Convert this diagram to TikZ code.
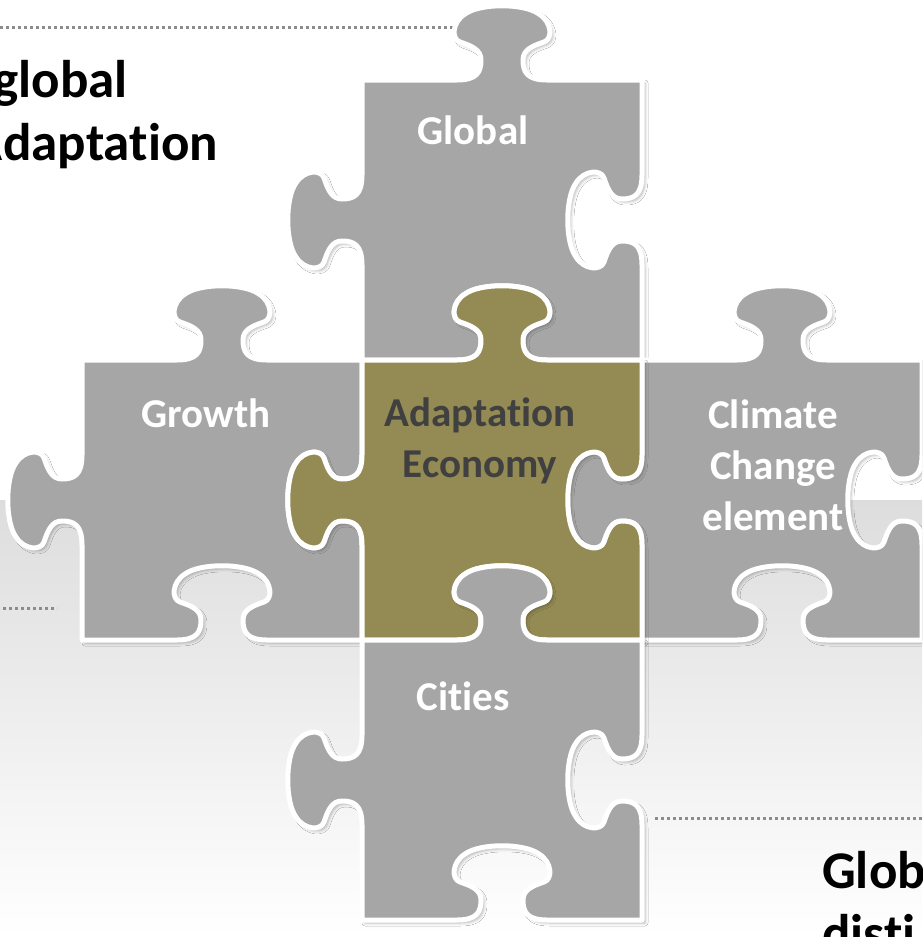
\documentclass[tikz,border=0pt]{standalone}
\usepackage{fontspec}
\setmainfont{Carlito}[Ligatures=NoCommon]
\usepackage{tikz}
\usetikzlibrary{shadows.blur}
\definecolor{pgray}{HTML}{A6A6A6}
\definecolor{polive}{HTML}{948A54}
\definecolor{ptext}{HTML}{404040}
\definecolor{pdots}{HTML}{8C8C8C}
\definecolor{bgtop}{HTML}{DDDDDD}

\begin{document}
\begin{tikzpicture}[x=1pt,y=-1pt,
  piece/.style={draw=white,line width=5pt,line join=round,
    blur shadow={shadow xshift=3pt,shadow yshift=-3pt,shadow blur radius=3pt,shadow opacity=28}},
  lbl/.style={text=white,font=\bfseries\fontsize{41}{51}\selectfont,align=center,inner sep=0pt},
  side/.style={font=\bfseries\fontsize{53}{63}\selectfont,inner sep=0pt},
  dots/.style={pdots,line width=3pt,dash pattern=on 3pt off 3pt}]
\path[use as bounding box] (0,0) rectangle (922,937);
\clip (0,0) rectangle (922,937);

% background
\fill[white] (0,0) rectangle (922,500);
\shade[top color=bgtop,bottom color=white] (0,500) rectangle (922,937);

% dotted rules
\coordinate (d1a) at (0,27);   \coordinate (d1b) at (465,27);
\coordinate (d2a) at (3,608);  \coordinate (d2b) at (57,608);
\coordinate (d3a) at (655,818); \coordinate (d3b) at (922,818);
\draw[dots] (d1a) -- (d1b);
\draw[dots] (d2a) -- (d2b);
\draw[dots] (d3a) -- (d3b);

% puzzle pieces
\foreach \px/\py/\pc in {362/80/pgray, 82/360/pgray, 642/360/pgray, 362/360/polive, 362/640/pgray}
  \draw[piece,fill=\pc,shift={(\px,\py)}] (0,0) -- (95,0)
    .. controls (115,0) and (119,-8) .. (119,-20)
    .. controls (119,-30) and (110,-34) .. (98,-38)
    .. controls (89,-41) and (90,-58) .. (103,-66)
    .. controls (118,-77) and (162,-77) .. (177,-66)
    .. controls (190,-58) and (191,-41) .. (182,-38)
    .. controls (170,-34) and (161,-30) .. (161,-20)
    .. controls (161,-8) and (165,0) .. (185,0)
    -- (280,0) -- (280,95)
    .. controls (280,115) and (272,119) .. (260,119)
    .. controls (250,119) and (246,110) .. (242,98)
    .. controls (239,89) and (222,90) .. (214,103)
    .. controls (203,118) and (203,162) .. (214,177)
    .. controls (222,190) and (239,191) .. (242,182)
    .. controls (246,170) and (250,161) .. (260,161)
    .. controls (272,161) and (280,165) .. (280,185)
    -- (280,280) -- (185,280)
    .. controls (165,280) and (161,272) .. (161,260)
    .. controls (161,250) and (170,246) .. (182,242)
    .. controls (191,239) and (190,222) .. (177,214)
    .. controls (162,203) and (118,203) .. (103,214)
    .. controls (90,222) and (89,239) .. (98,242)
    .. controls (110,246) and (119,250) .. (119,260)
    .. controls (119,272) and (115,280) .. (95,280)
    -- (0,280) -- (0,185)
    .. controls (0,165) and (-8,161) .. (-20,161)
    .. controls (-30,161) and (-34,170) .. (-38,182)
    .. controls (-41,191) and (-58,190) .. (-66,177)
    .. controls (-77,162) and (-77,118) .. (-66,103)
    .. controls (-58,90) and (-41,89) .. (-38,98)
    .. controls (-34,110) and (-30,119) .. (-20,119)
    .. controls (-8,119) and (0,115) .. (0,95) -- cycle;

% piece labels
\node[lbl,anchor=base] (global) at (473,144) {Global};
\node[lbl,anchor=base] (growth) at (206,427) {Growth};
\node[lbl,text=ptext,anchor=north] (adapt) at (480,398) {Adaptation\\Economy};
\node[lbl,anchor=north] (climate) at (773,400) {Climate\\Change\\element};
\node[lbl,anchor=base] (cities) at (463,710) {Cities};

% side texts
\node[side,anchor=base east] (sideA) at (128,97) {global};
\node[side,anchor=base east] (sideB) at (218,160) {Adaptation};
\node[side,anchor=base west] (sideC) at (822,888) {Glob};
\node[side,anchor=base west] (sideD) at (822,951) {disti};
\end{tikzpicture}
\end{document}
